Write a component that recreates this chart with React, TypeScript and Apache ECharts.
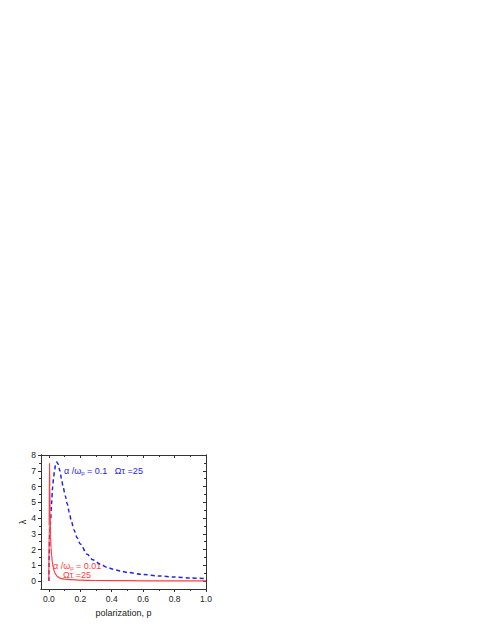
import React, { useEffect, useRef } from "react";
import * as echarts from "echarts";

const xMajor = [0, 0.2, 0.4, 0.6, 0.8, 1.0];
const xMinor = [0.1, 0.3, 0.5, 0.7, 0.9];
const yMajor = [0, 1, 2, 3, 4, 5, 6, 7, 8];
const yMinor = [0.5, 1.5, 2.5, 3.5, 4.5, 5.5, 6.5, 7.5];

const blueP = [0, 0.002, 0.006, 0.011, 0.017, 0.024, 0.03, 0.036, 0.043, 0.05, 0.058, 0.07, 0.08, 0.091, 0.105, 0.117, 0.13, 0.142, 0.16, 0.18, 0.2, 0.244, 0.28, 0.33, 0.37, 0.41, 0.46, 0.5, 0.6, 0.7, 0.8, 0.9, 1.0];
const blueL = [0, 1.7, 3.0, 3.8, 4.9, 5.95, 6.55, 7.0, 7.4, 7.55, 7.45, 7.0, 6.5, 5.95, 5.4, 4.9, 4.35, 3.85, 3.25, 2.75, 2.35, 1.7, 1.35, 1.06, 0.88, 0.75, 0.63, 0.55, 0.42, 0.33, 0.26, 0.2, 0.15];

const redP = [0, 0.002, 0.0045, 0.006, 0.008, 0.011, 0.014, 0.017, 0.022, 0.028, 0.035, 0.043, 0.055, 0.074, 0.1, 0.138, 0.2, 0.3, 0.5, 0.7, 1.0];
const redL = [0, 3.5, 7.5, 6.0, 4.4, 2.8, 2.1, 1.7, 1.2, 0.85, 0.6, 0.43, 0.28, 0.17, 0.12, 0.09, 0.06, 0.04, 0.025, 0.015, 0.01];

const FONT = "Liberation Sans, Arial, sans-serif";
const AXC = "#333";
const BLUE = "#2323e8";
const RED = "#ff3d3d";

export default function App() {
  const ref = useRef<HTMLDivElement>(null);
  useEffect(() => {
    if (!ref.current) return;
    const chart = echarts.init(ref.current, undefined, { renderer: "svg" });
    const line = { show: true, onZero: false, lineStyle: { color: AXC, width: 1 } };
    const mkX = (pos: string, vals: number[], len: number, inside: boolean, labels: boolean, extra: any = {}) => ({
      type: "value", position: pos, min: -0.05, max: 1.0,
      axisLine: line,
      axisTick: { show: true, customValues: vals, length: len, inside, lineStyle: { color: AXC, width: 1 } },
      axisLabel: labels
        ? { show: true, customValues: vals, margin: 5, fontSize: 8.5, color: "#222", fontFamily: FONT, formatter: (v: number) => v.toFixed(1) }
        : { show: false },
      splitLine: { show: false },
      ...extra,
    });
    const mkY = (pos: string, vals: number[], len: number, inside: boolean, labels: boolean, extra: any = {}) => ({
      type: "value", position: pos, min: -0.5, max: 8,
      axisLine: line,
      axisTick: { show: true, customValues: vals, length: len, inside, lineStyle: { color: AXC, width: 1 } },
      axisLabel: labels
        ? { show: true, customValues: vals, margin: 5, fontSize: 8.5, color: "#222", fontFamily: FONT, formatter: (v: number) => String(v) }
        : { show: false },
      splitLine: { show: false },
      ...extra,
    });
    chart.setOption({
      animation: false,
      grid: { left: 41, right: 279, top: 455, bottom: 38, containLabel: false },
      xAxis: [
        mkX("bottom", xMajor, 3, false, true, {
          name: "polarization, p", nameLocation: "middle", nameGap: 19,
          nameTextStyle: { fontSize: 9, color: "#222", fontFamily: FONT },
        }),
        mkX("bottom", xMinor, 2, false, false),
        mkX("top", xMajor, 3, true, false),
        mkX("top", xMinor, 2, true, false),
      ],
      yAxis: [
        mkY("left", yMajor, 3, false, true, {
          name: "λ", nameLocation: "middle", nameGap: 13, nameRotate: 90,
          nameTextStyle: { fontSize: 9, color: "#222", fontFamily: FONT },
        }),
        mkY("left", yMinor, 2, false, false),
        mkY("right", yMajor, 3, true, false),
        mkY("right", yMinor, 2, true, false),
      ],
      series: [
        {
          type: "line", xAxisIndex: 0, yAxisIndex: 0, showSymbol: false, smooth: 0.3, smoothMonotone: "x",
          data: blueP.map((p, i) => [p, blueL[i]]),
          lineStyle: { color: BLUE, width: 1.5, type: [4, 3] }, z: 2,
        },
        {
          type: "line", xAxisIndex: 0, yAxisIndex: 0, showSymbol: false, smooth: 0.3, smoothMonotone: "x",
          data: redP.map((p, i) => [p, redL[i]]),
          lineStyle: { color: RED, width: 1.2 }, z: 3,
        },
      ],
      graphic: [
        {
          type: "text", left: 64, top: 465,
          style: {
            text: "{a|α /ω}{s|p}{a| = 0.1   Ωτ =25}",
            rich: {
              a: { fontSize: 9, fill: BLUE, fontFamily: FONT, lineHeight: 10 },
              s: { fontSize: 6, fill: BLUE, fontFamily: FONT, lineHeight: 10, padding: [5, 0, 0, 0] },
            },
          },
        },
        {
          type: "text", left: 53, top: 560,
          style: {
            text: "{a|α /ω}{s|p}{a| = 0.01}",
            rich: {
              a: { fontSize: 9, fill: RED, fontFamily: FONT, lineHeight: 10 },
              s: { fontSize: 6, fill: RED, fontFamily: FONT, lineHeight: 10, padding: [5, 0, 0, 0] },
            },
          },
        },
        {
          type: "text", left: 63, top: 570,
          style: { text: "Ωτ =25", fontSize: 9, fill: RED, fontFamily: FONT },
        },
      ],
    });
    return () => chart.dispose();
  }, []);
  return <div ref={ref} style={{ position: "absolute", left: 0, top: 0, width: 485, height: 627 }} />;
}
